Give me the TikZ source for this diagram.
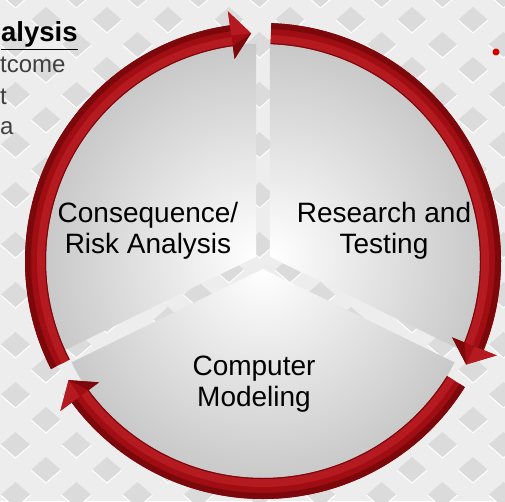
\documentclass[tikz,border=0pt]{standalone}
\usepackage{fontspec}
\setmainfont{Liberation Sans}
\usetikzlibrary{calc,positioning}
\definecolor{bg}{HTML}{EDEDED}
\definecolor{dia}{HTML}{DBDBDB}
\definecolor{ringred}{HTML}{A00D13}
\definecolor{ringdark}{HTML}{7C080C}
\definecolor{ringlight}{HTML}{B51A21}
\definecolor{secgray}{HTML}{C6C6C6}
\definecolor{txtgray}{HTML}{3F3F3F}
\definecolor{dotred}{HTML}{D40000}

\begin{document}
\begin{tikzpicture}[x=1pt,y=1pt, lbl/.style={align=center, font=\fontsize{28}{31}\selectfont},
  side/.style={anchor=base west, inner sep=0pt, text=txtgray, font=\fontsize{24}{30}\selectfont}]
\useasboundingbox (0,0) rectangle (505,501);
\fill[bg] (0,0) rectangle (505,501);
% background diamonds
\foreach \k in {0,...,21}{\foreach \m in {-1,...,8}{
  \pgfmathsetmacro\dx{473-61*\m-30.5*(1-mod(\k,2))}
  \pgfmathsetmacro\dy{506-25*\k}
  \fill[dia] (\dx-15,\dy) -- (\dx,\dy+13) -- (\dx+15,\dy) -- (\dx,\dy-13) -- cycle;
  \draw[white, line width=1] (\dx-15,\dy) -- (\dx,\dy-13) -- (\dx+15,\dy);}}
\begin{scope}[shift={(263,240)}]
% three pie pieces
\foreach \a/\b/\s in {90/206/148, -26/90/32, 206/334/270}{
  \begin{scope}
  \clip (\s:8) -- ++(\a:213) arc (\a:\b:213) -- cycle;
  \shade[inner color=white, outer color=secgray] (\s:8) circle (222);
  \end{scope}}
% red arrows round the pie
\foreach \s/\e in {207/98, 88/-22, -32/-143.5}{
  \fill[ringred] (\s:238) arc (\s:\e:238) -- (\e:252) -- ({\e-5}:228) -- (\e:204) -- (\e:217) arc (\e:\s:217) -- cycle;
  \fill[ringdark] (\s:238) arc (\s:\e:238) -- (\e:232) arc (\e:\s:232) -- cycle;
  \fill[ringlight] (\s:218) arc (\s:\e:218) -- (\e:226) arc (\e:\s:226) -- cycle;
  \draw[ringdark, line width=1] (\s:217.5) arc (\s:\e:217.5);
  \fill[ringlight] (\e:252) -- ({\e-5}:228) -- (\e:228) -- cycle;
  \fill[ringdark] (\e:204) -- ({\e-5}:228) -- (\e:217) -- cycle;}
\end{scope}
\node[lbl] (risk) at (148,270) {Consequence/\\Risk Analysis};
\node[lbl] (test) at (384,270) {Research and\\Testing};
\node[lbl] (model) at (254,117) {Computer\\Modeling};
% text at the left edge
\node[side, text=black, font=\bfseries\fontsize{27.5}{30}\selectfont] (head) at (1,459) {\underline{alysis}};
\node[side] (out) at (0,428) {tcome};
\node[side] (tee) at (0,396) {t};
\node[side] (aa) at (0,366) {a};
\node[circle, fill=dotred, inner sep=0, minimum size=7] (dot) at (496,449) {};
\end{tikzpicture}
\end{document}
